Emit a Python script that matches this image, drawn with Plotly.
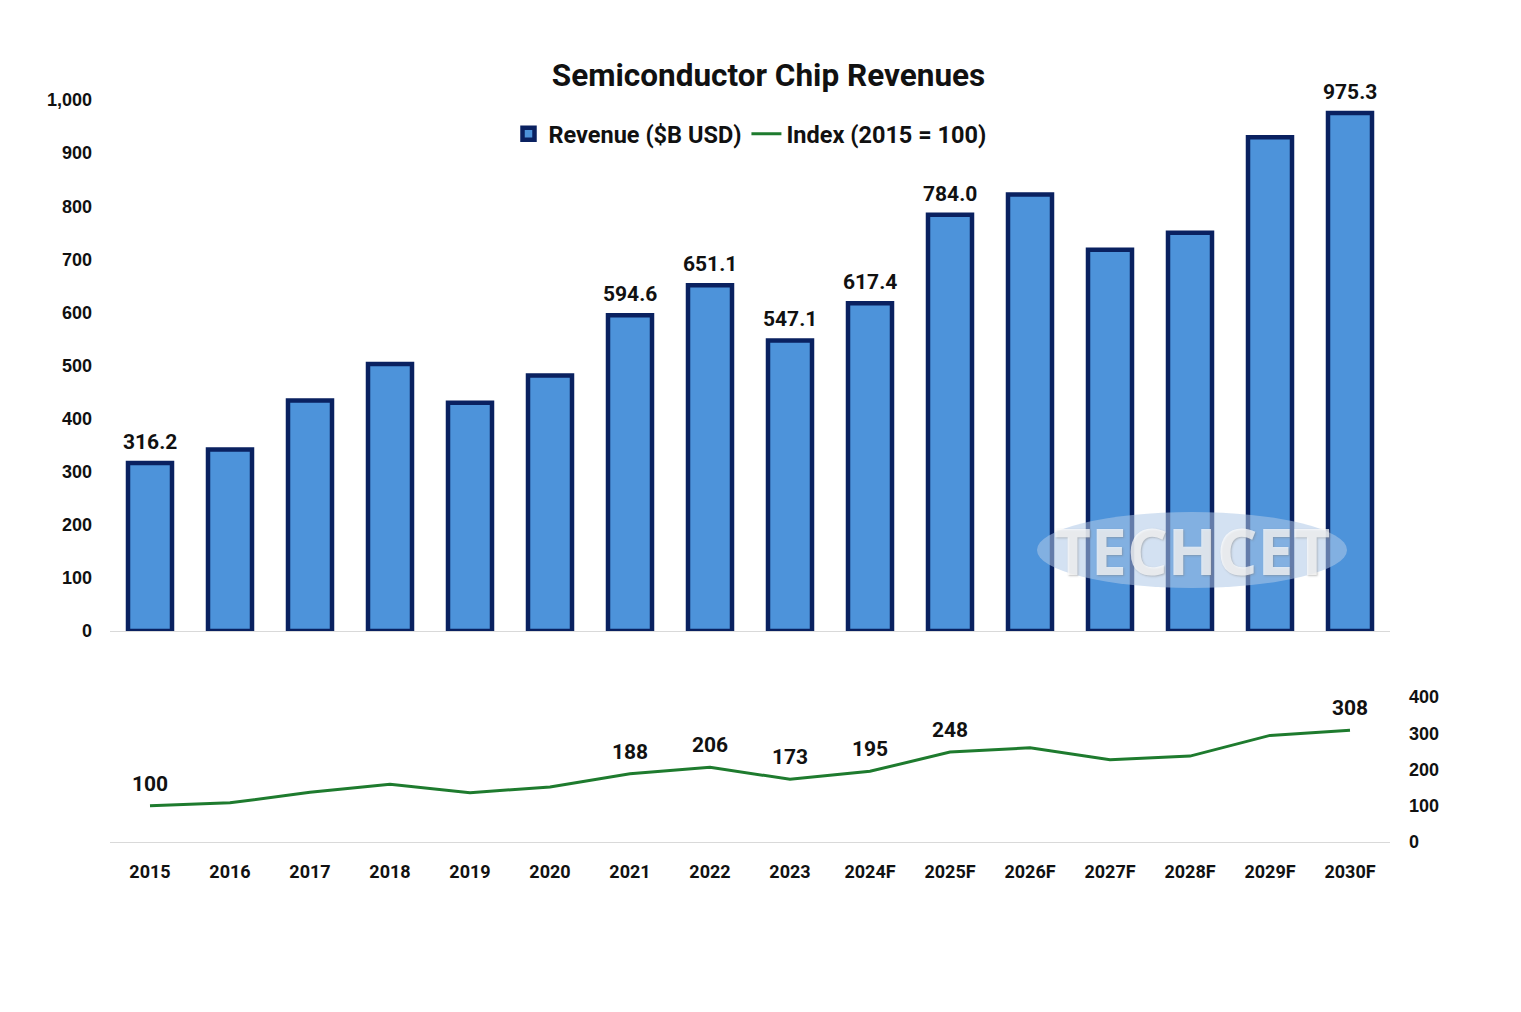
import plotly.graph_objects as go
from plotly.subplots import make_subplots

years = ["2015", "2016", "2017", "2018", "2019", "2020", "2021", "2022",
         "2023", "2024F", "2025F", "2026F", "2027F", "2028F", "2029F", "2030F"]
revenue = [316.2, 342, 434, 503, 430, 481, 594.6, 651.1,
           547.1, 617.4, 784.0, 822, 718, 750, 930, 975.3]
index_vals = [100, 108, 137, 159, 136, 152, 188, 206,
              173, 195, 248, 260, 227, 237, 294, 308]
rev_labels = ["316.2", "", "", "", "", "", "594.6", "651.1",
              "547.1", "617.4", "784.0", "", "", "", "", "975.3"]
idx_labels = ["100", "", "", "", "", "", "188", "206",
              "173", "195", "248", "", "", "", "", "308"]

COND = "Roboto, Liberation Sans Narrow, sans-serif"
BOLD = "Liberation Sans, Arial, sans-serif"

fig = make_subplots(rows=2, cols=1, shared_xaxes=True, vertical_spacing=0.0)

fig.add_trace(go.Bar(
    x=years, y=revenue, name="Revenue ($B USD)",
    marker=dict(color="#4D93DA", line=dict(color="#0A2160", width=4.5)),
    width=0.55,
), row=1, col=1)

fig.add_trace(go.Scatter(
    x=years, y=index_vals, name="Index (2015 = 100)", mode="lines",
    line=dict(color="#1E7B2E", width=3),
), row=2, col=1)

label_font = dict(family=COND, size=21, color="#111111", weight="bold")
# annotations on a category axis: position by category index
for i, (yv, t) in enumerate(zip(revenue, rev_labels)):
    if t:
        fig.add_annotation(x=i, y=yv, text=t, xref="x", yref="y", showarrow=False,
                           yanchor="middle", yshift=21, font=label_font)
for i, (yv, t) in enumerate(zip(index_vals, idx_labels)):
    if t:
        fig.add_annotation(x=i, y=yv, text=t, xref="x2", yref="y2", showarrow=False,
                           yanchor="middle", yshift=22, font=label_font)

H = 742.0
fig.update_layout(
    width=1521, height=1012,
    margin=dict(l=102, r=139, t=92, b=178),
    paper_bgcolor="white", plot_bgcolor="white",
    title=dict(text="<b>Semiconductor Chip Revenues</b>", x=0.5, xanchor="center",
               y=1 - 67 / 1012, yanchor="middle",
               font=dict(family=COND, size=31.5, color="#111111")),
    legend=dict(orientation="h", x=0.5, xanchor="center", y=1 - 34 / H, yanchor="middle",
                font=dict(family=COND, size=23.5, color="#111111", weight="bold"),
                itemwidth=30, tracegroupgap=0),
    showlegend=True,
)

fig.update_yaxes(row=1, col=1, domain=[(842 - 631) / H, 1.0], range=[0, 1000],
                 tickvals=[0, 100, 200, 300, 400, 500, 600, 700, 800, 900, 1000],
                 tickformat=",", showgrid=False, zeroline=False, showline=False,
                 ticks="", ticklabelstandoff=17,
                 tickfont=dict(family=BOLD, size=18, color="#111111", weight="bold"))
fig.update_yaxes(row=2, col=1, domain=[0.0, (842 - 697) / H], range=[0, 400],
                 side="right", tickvals=[0, 100, 200, 300, 400],
                 showgrid=False, zeroline=False, showline=False, ticks="",
                 ticklabelstandoff=18,
                 tickfont=dict(family=BOLD, size=18, color="#111111", weight="bold"))
fig.update_xaxes(row=1, col=1, type="category", showticklabels=False, showline=True,
                 range=[-0.5, 15.5], linecolor="#D9D9D9", linewidth=1, ticks="",
                 showgrid=False)
fig.update_xaxes(row=2, col=1, type="category", showticklabels=True, showline=True,
                 range=[-0.5, 15.5], linecolor="#D9D9D9", linewidth=1, ticks="",
                 showgrid=False, ticklabelstandoff=13,
                 tickfont=dict(family=COND, size=18, color="#111111", weight="bold"))

# watermark
fig.add_shape(type="circle", xref="paper", yref="paper",
              x0=(1037 - 110) / 1280, x1=(1347 - 110) / 1280,
              y0=(842 - 588) / H, y1=(842 - 512) / H,
              fillcolor="rgba(175,200,232,0.55)", line=dict(width=0), layer="above")
fig.add_annotation(text="<b>TECHCET</b>", xref="paper", yref="paper",
                   x=(1192 - 110) / 1280, y=(842 - 550) / H, showarrow=False,
                   xanchor="center", yanchor="middle",
                   font=dict(family="Open Sans, sans-serif", size=64,
                             color="rgba(255,255,255,0.72)",
                             shadow="1px 1px 2px rgba(120,120,120,0.6)"))

fig.write_html("out.html")
